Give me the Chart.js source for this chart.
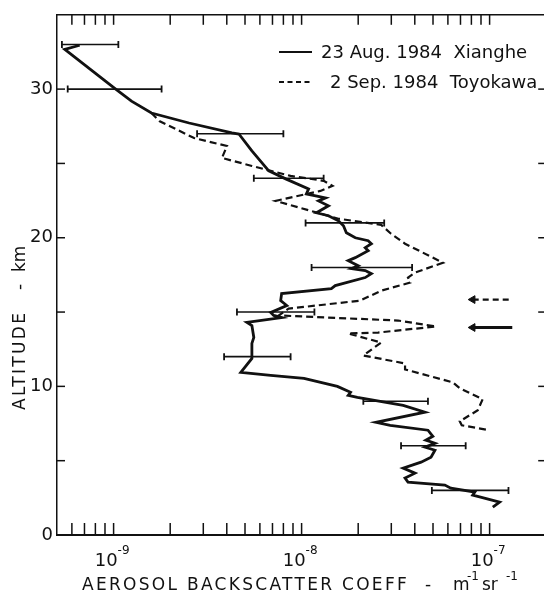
<!DOCTYPE html>
<html>
<head>
<meta charset="utf-8">
<script src="https://cdn.jsdelivr.net/npm/chart.js@4.4.0/dist/chart.umd.min.js"></script>
<style>
  html, body { margin: 0; padding: 0; background: #fff; overflow: hidden; }
  #wrap { position: relative; width: 552px; height: 593px; }
</style>
</head>
<body>
<div id="wrap"><canvas id="chart"></canvas></div>
<script>
// legend labels for the two profiles
const seriesLabels = ['23 Aug. 1984  Xianghe', '2 Sep. 1984  Toyokawa'];

// Xianghe profile (solid): backscatter coeff (m-1 sr-1) vs altitude (km)
const xiangheCoeff = [6.6e-10, 5.5e-10, 1.01e-9, 1.245e-9, 1.59e-9, 2.52e-9, 4.26e-9, 4.64e-9, 5.44e-9, 6.69e-9,
  8.23e-9, 1.09e-8, 1.06e-8, 1.34e-8, 1.23e-8, 1.39e-8, 1.20e-8, 1.39e-8, 1.57e-8, 1.67e-8,
  1.73e-8, 1.93e-8, 2.26e-8, 2.35e-8, 2.18e-8, 2.26e-8, 1.93e-8, 1.77e-8, 2.00e-8, 1.84e-8,
  2.18e-8, 2.35e-8, 2.18e-8, 1.51e-8, 1.44e-8, 7.83e-9, 7.74e-9, 8.34e-9, 6.85e-9, 7.11e-9,
  7.83e-9, 5.12e-9, 5.44e-9, 5.57e-9, 5.44e-9, 5.44e-9, 4.75e-9, 6.85e-9, 1.03e-8, 1.55e-8,
  1.82e-8, 1.77e-8, 1.98e-8, 3.47e-8, 4.53e-8, 2.49e-8, 2.96e-8, 4.70e-8, 4.99e-8, 4.58e-8,
  5.12e-8, 4.53e-8, 5.12e-8, 4.88e-8, 4.32e-8, 3.47e-8, 4.01e-8, 3.55e-8, 3.68e-8, 5.78e-8,
  6.22e-8, 8.34e-8, 8.13e-8, 8.95e-8, 1.13e-7, 1.04e-7];
const xiangheAlt = [32.95, 32.68, 30.07, 29.19, 28.39, 27.72, 27.05, 26.98, 25.84, 24.50,
  23.96, 23.29, 22.95, 22.68, 22.48, 22.15, 21.68, 21.48, 21.14, 20.81,
  20.34, 20.00, 19.80, 19.60, 19.33, 19.13, 18.66, 18.46, 18.12, 17.92,
  17.79, 17.58, 17.32, 16.78, 16.58, 16.24, 15.77, 15.44, 14.97, 14.77,
  14.63, 14.30, 14.09, 13.29, 12.89, 11.88, 10.94, 10.74, 10.54, 10.00,
  9.60, 9.40, 9.26, 8.72, 8.26, 7.58, 7.38, 7.05, 6.64, 6.38,
  6.17, 5.91, 5.70, 5.23, 4.90, 4.50, 4.16, 3.83, 3.56, 3.36,
  3.15, 2.89, 2.68, 2.55, 2.21, 1.88];

// Toyokawa profile (dashed)
const toyokawaCoeff = [1.59e-9, 1.75e-9, 2.68e-9, 4.01e-9, 3.77e-9, 5.44e-9, 6.85e-9, 8.74e-9, 1.31e-8, 1.46e-8,
  1.26e-8, 7.28e-9, 1.57e-8, 2.65e-8, 2.99e-8, 3.55e-8, 5.64e-8, 4.01e-8, 3.68e-8, 3.78e-8,
  2.65e-8, 2.05e-8, 8.53e-9, 7.55e-9, 3.26e-8, 5.18e-8, 2.55e-8, 1.77e-8, 2.65e-8, 2.13e-8,
  3.55e-8, 3.55e-8, 6.37e-8, 6.94e-8, 9.18e-8, 8.65e-8, 6.94e-8, 7.11e-8, 1.0e-7];
const toyokawaAlt = [28.39, 27.85, 26.71, 26.17, 25.37, 24.83, 24.50, 24.16, 23.83, 23.49,
  23.15, 22.48, 21.28, 20.87, 20.27, 19.60, 18.32, 17.65, 17.32, 16.98,
  16.44, 15.77, 15.23, 14.77, 14.43, 14.03, 13.62, 13.56, 12.95, 12.08,
  11.54, 11.14, 10.27, 9.87, 9.13, 8.39, 7.65, 7.38, 7.05];

// error bars on the Xianghe profile
const errAlt = [33, 30, 27, 24, 21, 18, 15, 12, 9, 6, 3];
const errLow = [5.31e-10, 5.7e-10, 2.78e-9, 5.57e-9, 1.05e-8, 1.13e-8, 4.53e-9, 3.87e-9, 2.13e-8, 3.38e-8, 4.93e-8];
const errHigh = [1.06e-9, 1.8e-9, 8.0e-9, 1.31e-8, 2.75e-8, 3.87e-8, 1.17e-8, 8.74e-9, 4.70e-8, 7.46e-8, 1.26e-7];

// arrows at the right (dashed = Toyokawa, solid = Xianghe)
const arrowAlt = [15.84, 13.96];
const arrowFrom = [8.13e-8, 8.13e-8];
const arrowTo = [1.29e-7, 1.32e-7];

// axes
const yTicks = [0, 10, 20, 30];
const yMinorTicks = [5, 10, 15, 20, 25, 30];
const xTickExps = [-9, -8, -7];

const ink = '#111';
const toPoints = (xs, ys) => xs.map((v, i) => ({ x: v, y: ys[i] }));

const datasets = [
  { label: seriesLabels[0], data: toPoints(xiangheCoeff, xiangheAlt), borderColor: ink,
    borderWidth: 2.8, pointRadius: 0, showLine: true, tension: 0 },
  { label: seriesLabels[1], data: toPoints(toyokawaCoeff, toyokawaAlt), borderColor: ink,
    borderWidth: 2.2, borderDash: [7, 4], pointRadius: 0, showLine: true, tension: 0 }
];
errAlt.forEach((a, i) => {
  datasets.push({
    data: [{ x: errLow[i], y: a }, { x: errHigh[i], y: a }],
    borderColor: ink, borderWidth: 1.6, showLine: true,
    pointStyle: 'line', pointRotation: 90, pointRadius: 3.5, pointBorderWidth: 1.8,
    pointBorderColor: ink
  });
});
arrowAlt.forEach((a, i) => {
  datasets.push({
    data: [{ x: arrowFrom[i], y: a }, { x: arrowTo[i], y: a }],
    borderColor: ink, backgroundColor: ink, borderWidth: i ? 2.8 : 2.2,
    borderDash: i ? [] : [6, 4], showLine: true,
    pointStyle: 'triangle', pointRotation: -90, pointRadius: [4.5, 0], pointBorderWidth: 1
  });
});

function line(ctx, x1, y1, x2, y2) {
  ctx.beginPath(); ctx.moveTo(x1, y1); ctx.lineTo(x2, y2); ctx.stroke();
}

// frame, inward ticks, superscript labels, titles and legend
const decorations = {
  id: 'decorations',
  afterDraw(chart) {
    const { ctx, chartArea: a, scales: { x, y } } = chart;
    ctx.save();
    ctx.strokeStyle = ink;
    ctx.fillStyle = ink;
    ctx.lineWidth = 1.5;
    line(ctx, a.left, a.top, a.right, a.top);

    // x ticks: every integer multiple in each decade
    for (let e = -10; e <= -7; e++) {
      for (let m = 1; m <= 9; m++) {
        const v = m * Math.pow(10, e);
        if (v <= x.min * 1.001 || v > x.max * 1.001) continue;
        const px = x.getPixelForValue(v);
        line(ctx, px, a.bottom, px, a.bottom - 12);
        line(ctx, px, a.top, px, a.top + 10);
      }
    }
    // y ticks, left and right
    yMinorTicks.forEach(v => {
      const py = y.getPixelForValue(v);
      line(ctx, a.left, py, a.left + 8, py);
      line(ctx, a.right, py, a.right - 8, py);
    });

    // x tick labels 10^n
    ctx.textBaseline = 'alphabetic';
    xTickExps.forEach(e => {
      const px = x.getPixelForValue(Math.pow(10, e));
      ctx.font = '18px "DejaVu Sans"';
      ctx.textAlign = 'right';
      ctx.fillText('10', px + 4, 566);
      ctx.font = '12px "DejaVu Sans"';
      ctx.textAlign = 'left';
      ctx.fillText('-' + Math.abs(e), px + 4, 554);
    });

    // x axis title
    ctx.letterSpacing = '2.3px';
    ctx.font = '17px "DejaVu Sans"';
    ctx.textAlign = 'left';
    ctx.fillText('AEROSOL BACKSCATTER COEFF', 82, 590);
    ctx.letterSpacing = '0px';
    ctx.fillText('-', 425, 590);
    ctx.fillText('m', 453, 590);
    ctx.fillText('sr', 482, 590);
    ctx.font = '12px "DejaVu Sans"';
    ctx.fillText('-1', 467, 580);
    ctx.fillText('-1', 506, 580);

    // y axis title (rotated)
    ctx.save();
    ctx.translate(25, 410);
    ctx.rotate(-Math.PI / 2);
    ctx.font = '17px "DejaVu Sans"';
    ctx.letterSpacing = '2.3px';
    ctx.fillText('ALTITUDE', 0, 0);
    ctx.letterSpacing = '0px';
    ctx.fillText('-', 120, 0);
    ctx.fillText('km', 138, 0);
    ctx.restore();

    // legend
    ctx.font = '18px "DejaVu Sans"';
    ctx.textBaseline = 'middle';
    ctx.lineWidth = 2;
    line(ctx, 279, 52, 312, 52);
    ctx.setLineDash([5, 3.5]);
    line(ctx, 279, 82, 312, 82);
    ctx.setLineDash([]);
    ctx.fillText(seriesLabels[0], 321, 53);
    ctx.fillText(seriesLabels[1], 330, 83);
    ctx.restore();
  }
};

new Chart(document.getElementById('chart'), {
  type: 'scatter',
  data: { datasets },
  options: {
    responsive: true,
    maintainAspectRatio: false,
    animation: false,
    layout: { padding: { top: 14, right: 3, left: 0, bottom: 0 } },
    plugins: { legend: { display: false }, tooltip: { enabled: false } },
    scales: {
      x: {
        type: 'logarithmic', min: 5e-10, max: 2e-7,
        afterFit: s => { s.height = 58; },
        grid: { display: false, drawTicks: false },
        border: { display: true, color: ink, width: 2 },
        ticks: { display: false }
      },
      y: {
        type: 'linear', min: 0, max: 35,
        afterBuildTicks: s => { s.ticks = yTicks.map(v => ({ value: v })); },
        afterFit: s => { s.width = 57; },
        grid: { display: false, drawTicks: false },
        border: { display: true, color: ink, width: 1.5 },
        ticks: { color: ink, padding: 4, font: { family: 'DejaVu Sans', size: 18 } }
      }
    }
  },
  plugins: [decorations]
});
</script>
</body>
</html>
